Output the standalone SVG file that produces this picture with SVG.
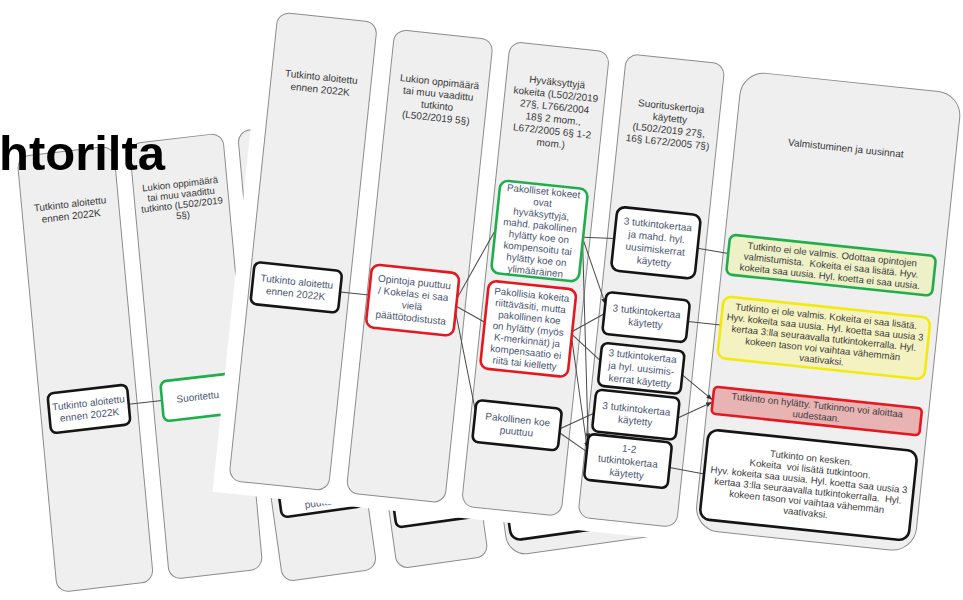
<svg xmlns="http://www.w3.org/2000/svg" width="963" height="600" viewBox="0 0 963 600">
<style>
.col{fill:#efefef;stroke:#8c8c8c;stroke-width:1}
.nb{fill:#fff;stroke:#151515;stroke-width:2.6}
.nr{fill:#fff;stroke:#e5171f;stroke-width:2.6}
.ng{fill:#fff;stroke:#1fae4b;stroke-width:2.6}
.kg{fill:#eef0c8;stroke:#1fae4b;stroke-width:2.6}
.ky{fill:#f5f2c2;stroke:#f2ea0e;stroke-width:2.6}
.kr{fill:#e8b3b3;stroke:#e5171f;stroke-width:2.6}
.h{font-family:"Liberation Sans",Arial,sans-serif;font-size:10px;fill:#383838;text-anchor:middle}
.t{font-family:"Liberation Sans",Arial,sans-serif;font-size:10px;fill:#4a5570;text-anchor:middle}
.s{font-family:"Liberation Sans",Arial,sans-serif;font-size:9.6px;fill:#3c3c3c;text-anchor:middle}
.c{stroke:#4a4a4a;stroke-width:1;fill:none}
.a{marker-end:url(#ah)}
</style>
<defs>
<marker id="ah" viewBox="0 0 10 10" refX="9" refY="5" markerWidth="6" markerHeight="6" orient="auto"><path d="M0,1 L10,5 L0,9 z" fill="#333"/></marker>
</defs>
<rect x="0" y="0" width="963" height="600" fill="#fff"/>

<!-- back slide -->
<g id="back-slide" transform="matrix(0.993 -0.115 0.092 0.995 17 156.8)">
  <rect class="col" x="0" y="0" width="97" height="438" rx="12"/>
  <rect class="col" x="113" y="0" width="94" height="438" rx="12"/>
  <rect class="col" x="222" y="0" width="98" height="438" rx="12"/>
  <text class="h"><tspan x="48.5" y="56.5">Tutkinto aloitettu</tspan><tspan x="48.5" y="68.5">ennen 2022K</tspan></text>
  <text class="h" style="font-size:9.6px"><tspan x="160" y="49">Lukion oppimäärä</tspan><tspan x="160" y="59.5">tai muu vaadittu</tspan><tspan x="160" y="70">tutkinto (L502/2019</tspan><tspan x="160" y="80.5">5§)</tspan></text>
  <g id="back-connectors"><line class="c" x1="88.5" y1="259" x2="122" y2="259"/></g>
  <g id="back-node-start"><rect class="nb" x="8.5" y="239" width="80" height="40" rx="6"/><text class="t"><tspan x="48.5" y="256.5">Tutkinto aloitettu</tspan><tspan x="48.5" y="268.5">ennen 2022K</tspan></text></g>
  <g id="back-node-suoritettu"><rect class="ng" x="122" y="240" width="84" height="40" rx="6"/><text class="t" x="158" y="263">Suoritettu</text></g>
</g>

<text x="-1" y="170" style="font-family:'Liberation Sans',Arial,sans-serif;font-weight:bold;font-size:48px;fill:#000" textLength="166" lengthAdjust="spacingAndGlyphs">htorilta</text>

<!-- middle slide (mostly hidden) -->
<g id="middle-slide" transform="translate(283 582) rotate(-8)">
  <rect x="-8" y="-130" width="490" height="145" fill="#fff"/>
  <rect class="col" x="0" y="-128" width="95" height="128" rx="12"/>
  <rect class="col" x="115" y="-128" width="92" height="131" rx="12"/>
  <rect class="col" x="227" y="-128" width="245" height="134" rx="20"/>
  <g id="mid-node-puuttuu"><rect class="nb" x="8" y="-106" width="82" height="42" rx="6"/><text class="t" x="49" y="-70">puuttuu</text></g>
  <g id="mid-node-kaytetty"><rect class="nb" x="120" y="-80" width="82" height="42" rx="6"/></g>
  <g id="mid-node-kesken"><rect class="nb" x="232" y="-102" width="235" height="93" rx="10"/></g>
</g>

<!-- front slide -->
<g id="front-slide" transform="translate(278 12) rotate(6)">
  <rect x="-15" y="-16" width="722" height="500" fill="#fff"/>
  <rect class="col" x="0" y="0" width="100" height="471" rx="12"/>
  <rect class="col" x="118" y="5" width="99" height="466" rx="12"/>
  <rect class="col" x="234" y="5" width="100" height="467" rx="12"/>
  <rect class="col" x="351" y="5" width="99" height="466" rx="12"/>
  <rect class="col" x="468" y="10" width="221" height="461" rx="24"/>

  <text class="h"><tspan x="50" y="63.5">Tutkinto aloitettu</tspan><tspan x="50" y="76">ennen 2022K</tspan></text>
  <text class="h"><tspan x="168" y="56">Lukion oppimäärä</tspan><tspan x="168" y="68">tai muu vaadittu</tspan><tspan x="168" y="80">tutkinto</tspan><tspan x="168" y="92">(L502/2019 5§)</tspan></text>
  <text class="h"><tspan x="285" y="44">Hyväksyttyjä</tspan><tspan x="285" y="56.3">kokeita (L502/2019</tspan><tspan x="285" y="68.6">27§, L766/2004</tspan><tspan x="285" y="80.9">18§ 2 mom.,</tspan><tspan x="285" y="93.2">L672/2005 6§ 1-2</tspan><tspan x="285" y="105.5">mom.)</tspan></text>
  <text class="h"><tspan x="401" y="56">Suorituskertoja</tspan><tspan x="401" y="68">käytetty</tspan><tspan x="401" y="80">(L502/2019 27§,</tspan><tspan x="401" y="92">16§ L672/2005 7§)</tspan></text>
  <text class="h" x="579" y="79.5">Valmistuminen ja uusinnat</text>

  <g id="connectors">
    <line class="c" x1="91" y1="272" x2="120" y2="272"/>
    <line class="c" x1="208" y1="266" x2="239" y2="194"/>
    <line class="c" x1="208" y1="274" x2="238" y2="287"/>
    <line class="c" x1="208" y1="280" x2="238" y2="376"/>
    <line class="c" x1="327" y1="192" x2="358" y2="190"/>
    <line class="c a" x1="327" y1="194" x2="356" y2="256"/>
    <line class="c a" x1="327" y1="197" x2="353" y2="392"/>
    <line class="c" x1="326" y1="287" x2="356" y2="266"/>
    <line class="c" x1="326" y1="290" x2="357" y2="313"/>
    <line class="c a" x1="326" y1="293" x2="353" y2="401"/>
    <line class="c" x1="324" y1="385" x2="356" y2="366"/>
    <line class="c" x1="324" y1="389" x2="353" y2="405"/>
    <line class="c" x1="442" y1="191" x2="473" y2="193"/>
    <line class="c" x1="440" y1="265" x2="473" y2="265"/>
    <line class="c a" x1="439" y1="318" x2="472" y2="340"/>
    <line class="c a" x1="440" y1="362" x2="472" y2="343"/>
    <line class="c" x1="437" y1="412" x2="472" y2="415"/>
  </g>

  <g id="node-start"><rect class="nb" x="3" y="251" width="88" height="42" rx="6"/>
    <text class="t"><tspan x="47" y="269.7">Tutkinto aloitettu</tspan><tspan x="47" y="281.7">ennen 2022K</tspan></text></g>
  <g id="node-opintoja"><rect class="nr" x="120" y="241" width="88" height="63" rx="8"/>
    <text class="t"><tspan x="164" y="257.7">Opintoja puuttuu</tspan><tspan x="164" y="269.7">/ Kokelas ei saa</tspan><tspan x="164" y="281.7">vielä</tspan><tspan x="164" y="293.7">päättötodistusta</tspan></text></g>
  <g id="node-pakolliset-hyv"><rect class="ng" x="239" y="144" width="88" height="93" rx="8"/>
    <text class="t" style="font-size:9.8px"><tspan x="283" y="153.8">Pakolliset kokeet</tspan><tspan x="283" y="165.3">ovat</tspan><tspan x="283" y="176.8">hyväksyttyjä,</tspan><tspan x="283" y="188.3">mahd. pakollinen</tspan><tspan x="283" y="199.8">hylätty koe on</tspan><tspan x="283" y="211.3">kompensoitu tai</tspan><tspan x="283" y="222.8">hylätty koe on</tspan><tspan x="283" y="234.3">ylimääräinen</tspan></text></g>
  <g id="node-pakollisia-hyl"><rect class="nr" x="238" y="245" width="88" height="88" rx="8"/>
    <text class="t" style="font-size:9.8px"><tspan x="282" y="258">Pakollisia kokeita</tspan><tspan x="282" y="269.5">riittäväsiti, mutta</tspan><tspan x="282" y="281">pakollinen koe</tspan><tspan x="282" y="292.5">on hylätty (myös</tspan><tspan x="282" y="304">K-merkinnät) ja</tspan><tspan x="282" y="315.5">kompensaatio ei</tspan><tspan x="282" y="327">riitä tai kielletty</tspan></text></g>
  <g id="node-puuttuu"><rect class="nb" x="238" y="365" width="86" height="42" rx="6"/>
    <text class="t"><tspan x="281" y="383.7">Pakollinen koe</tspan><tspan x="281" y="395.7">puuttuu</tspan></text></g>
  <g id="node-3-mahd"><rect class="nb" x="358" y="158" width="84" height="64" rx="8"/>
    <text class="t"><tspan x="400" y="175">3 tutkintokertaa</tspan><tspan x="400" y="187.5">ja mahd. hyl.</tspan><tspan x="400" y="200">uusimiskerrat</tspan><tspan x="400" y="212.5">käytetty</tspan></text></g>
  <g id="node-3-a"><rect class="nb" x="356" y="244" width="84" height="42" rx="6"/>
    <text class="t"><tspan x="398" y="262.7">3 tutkintokertaa</tspan><tspan x="398" y="274.7">käytetty</tspan></text></g>
  <g id="node-3-uusimis"><rect class="nb" x="357" y="295" width="83" height="43" rx="6"/>
    <text class="t"><tspan x="398.5" y="307.5">3 tutkintokertaa</tspan><tspan x="398.5" y="320">ja hyl. uusimis-</tspan><tspan x="398.5" y="332.5">kerrat käytetty</tspan></text></g>
  <g id="node-3-b"><rect class="nb" x="356" y="342" width="84" height="42" rx="6"/>
    <text class="t"><tspan x="398" y="360.7">3 tutkintokertaa</tspan><tspan x="398" y="372.7">käytetty</tspan></text></g>
  <g id="node-1-2"><rect class="nb" x="353" y="387" width="84" height="46" rx="6"/>
    <text class="t"><tspan x="395" y="401.2">1-2</tspan><tspan x="395" y="413.7">tutkintokertaa</tspan><tspan x="395" y="426.2">käytetty</tspan></text></g>

  <g id="node-odottaa"><rect class="kg" x="473" y="174" width="207" height="40" rx="6"/>
    <text class="s"><tspan x="576.5" y="186.5">Tutkinto ei ole valmis. Odottaa opintojen</tspan><tspan x="576.5" y="197.5">valmistumista.&#160; Kokeita ei saa lisätä. Hyv.</tspan><tspan x="576.5" y="208.5">kokeita saa uusia. Hyl. koetta ei saa uusia.</tspan></text></g>
  <g id="node-ei-valmis"><rect class="ky" x="473" y="236" width="208" height="62" rx="8"/>
    <text class="s"><tspan x="577" y="248.5">Tutkinto ei ole valmis. Kokeita ei saa lisätä.</tspan><tspan x="577" y="259.5">Hyv. kokeita saa uusia. Hyl. koetta saa uusia 3</tspan><tspan x="577" y="270.5">kertaa 3:lla seuraavalla tutkintokerralla. Hyl.</tspan><tspan x="577" y="281.5">kokeen tason voi vaihtaa vähemmän</tspan><tspan x="577" y="292.5">vaativaksi.</tspan></text></g>
  <g id="node-hylatty"><rect class="kr" x="473" y="327" width="209" height="27" rx="4"/>
    <text class="s"><tspan x="577.5" y="338">Tutkinto on hylätty. Tutkinnon voi aloittaa</tspan><tspan x="577.5" y="349">uudestaan.</tspan></text></g>
  <g id="node-kesken"><rect class="nb" x="472" y="370" width="210" height="90" rx="10"/>
    <text class="s"><tspan x="577" y="391">Tutkinto on kesken.</tspan><tspan x="577" y="402">Kokeita&#160; voi lisätä tutkintoon.</tspan><tspan x="577" y="413">Hyv. kokeita saa uusia. Hyl. koetta saa uusia 3</tspan><tspan x="577" y="424">kertaa 3:lla seuraavalla tutkintokerralla.&#160; Hyl.</tspan><tspan x="577" y="435">kokeen tason voi vaihtaa vähemmän</tspan><tspan x="577" y="446">vaativaksi.</tspan></text></g>
</g>
</svg>
